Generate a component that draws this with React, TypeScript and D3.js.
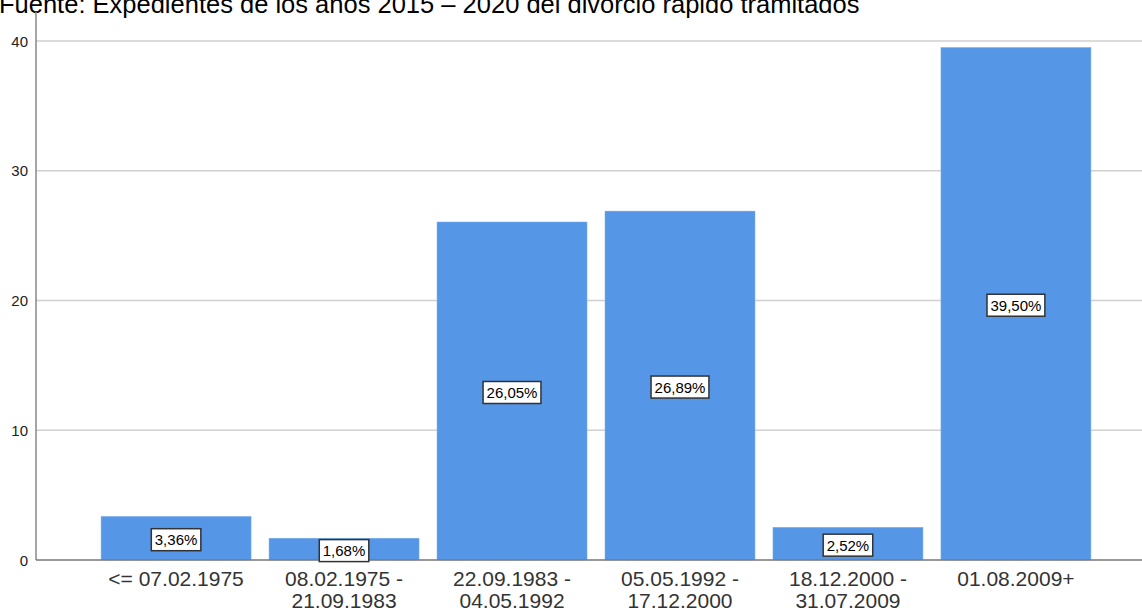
import React from "react";
import * as d3 from "d3";

const categories: string[][] = [
  ["<= 07.02.1975"],
  ["08.02.1975 -", "21.09.1983"],
  ["22.09.1983 -", "04.05.1992"],
  ["05.05.1992 -", "17.12.2000"],
  ["18.12.2000 -", "31.07.2009"],
  ["01.08.2009+"],
];
const values: number[] = [3.36, 1.68, 26.05, 26.89, 2.52, 39.5];
const valueLabels: string[] = ["3,36%", "1,68%", "26,05%", "26,89%", "2,52%", "39,50%"];
const yTicks: number[] = [0, 10, 20, 30, 40];
const title = "Fuente: Expedientes de los años 2015 – 2020 del divorcio rápido tramitados";

const W = 1142;
const H = 614;
const FONT = "'Liberation Sans', Arial, sans-serif";

function labelWidth(s: string, fs: number): number {
  let w = 0;
  for (const ch of s) {
    if (ch === ",") w += 0.278;
    else if (ch === "%") w += 0.889;
    else w += 0.556;
  }
  return w * fs;
}

export default function App() {
  const keys = categories.map((_, i) => String(i));
  const x = d3
    .scaleBand<string>()
    .domain(keys)
    .range([92, 1100])
    .paddingInner(0.107)
    .paddingOuter(0.054);
  const y = d3.scaleLinear().domain([0, 40]).range([560, 41]);
  const axisX = 36;

  return (
    <svg
      width={W}
      height={H}
      style={{ position: "absolute", left: 0, top: 0, background: "#fff" }}
      fontFamily={FONT}
    >
      <text x={-1} y={13} fontSize={25.5} fill="#000">
        {title}
      </text>
      {yTicks.map((t) => (
        <g key={t}>
          {t > 0 && (
            <line x1={axisX} x2={W} y1={y(t)} y2={y(t)} stroke="#cfcfcf" strokeWidth={1.5} />
          )}
          <text x={28} y={y(t) + 5.5} fontSize={15} textAnchor="end" fill="#222">
            {t}
          </text>
        </g>
      ))}
      {values.map((v, i) => (
        <rect
          key={i}
          x={x(String(i))!}
          y={y(v)}
          width={x.bandwidth()}
          height={y(0) - y(v)}
          fill="#5596E6"
          stroke="#7fb0ee"
          strokeWidth={0.5}
        />
      ))}
      <line x1={axisX} x2={axisX} y1={12} y2={y(0)} stroke="#888" strokeWidth={1.5} />
      <line x1={axisX} x2={W} y1={y(0)} y2={y(0)} stroke="#777" strokeWidth={1.5} />
      {values.map((v, i) => {
        const cx = x(String(i))! + x.bandwidth() / 2;
        const cy = y(v / 2) + 1.5;
        const w = labelWidth(valueLabels[i], 15) + 7;
        return (
          <g key={"l" + i}>
            <rect
              x={cx - w / 2}
              y={cy - 11}
              width={w}
              height={22}
              fill="#fff"
              stroke="#333"
              strokeWidth={1.5}
            />
            <text x={cx} y={cy + 5.5} fontSize={15} textAnchor="middle" fill="#000">
              {valueLabels[i]}
            </text>
          </g>
        );
      })}
      {categories.map((lines, i) => {
        const cx = x(String(i))! + x.bandwidth() / 2;
        return (
          <text key={"c" + i} x={cx} y={586} fontSize={21} textAnchor="middle" fill="#333">
            {lines.map((ln, j) => (
              <tspan key={j} x={cx} dy={j === 0 ? 0 : 22}>
                {ln}
              </tspan>
            ))}
          </text>
        );
      })}
    </svg>
  );
}
